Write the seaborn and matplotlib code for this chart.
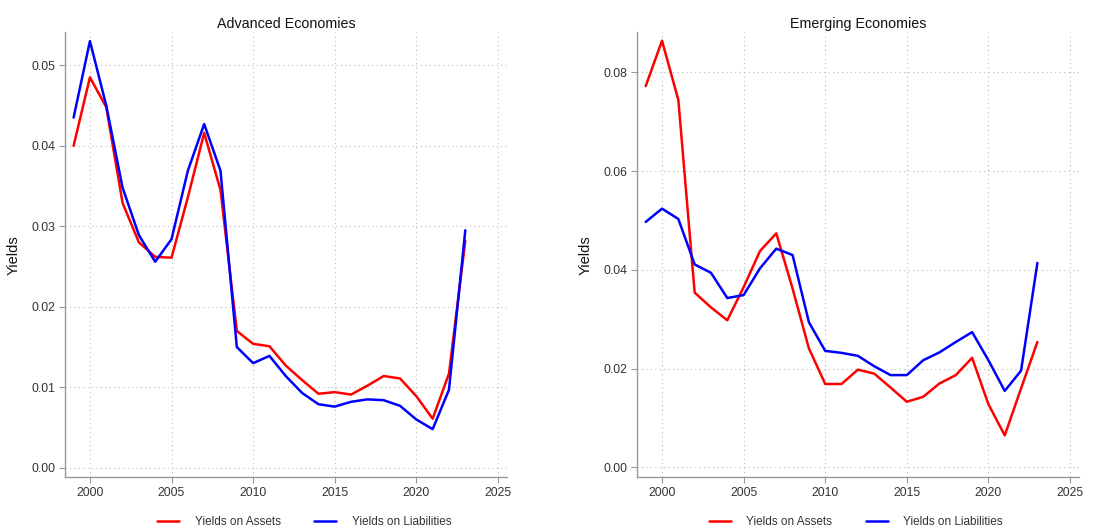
import matplotlib
matplotlib.use("Agg")
import matplotlib.pyplot as plt
import seaborn as sns
import pandas as pd
from matplotlib.lines import Line2D

years = list(range(1999, 2024))

adv_assets = [0.0400, 0.0485, 0.0448, 0.0329, 0.0280, 0.0262, 0.0261, 0.0336, 0.0416,
              0.0345, 0.0170, 0.0154, 0.0151, 0.0127, 0.0109, 0.0092, 0.0094, 0.0091,
              0.0102, 0.0114, 0.0111, 0.0089, 0.0061, 0.0117, 0.0282]
adv_liabilities = [0.0435, 0.0530, 0.0450, 0.0348, 0.0289, 0.0256, 0.0284, 0.0369, 0.0427,
                   0.0369, 0.0150, 0.0130, 0.0139, 0.0114, 0.0093, 0.0079, 0.0076, 0.0082,
                   0.0085, 0.0084, 0.0077, 0.0060, 0.0048, 0.0097, 0.0295]

eme_assets = [0.0772, 0.0864, 0.0744, 0.0354, 0.0324, 0.0298, 0.0365, 0.0438, 0.0474,
              0.0362, 0.0241, 0.0169, 0.0169, 0.0198, 0.0190, 0.0162, 0.0133, 0.0143,
              0.0170, 0.0187, 0.0222, 0.0128, 0.0065, 0.0160, 0.0254]
eme_liabilities = [0.0497, 0.0524, 0.0503, 0.0411, 0.0394, 0.0343, 0.0349, 0.0403, 0.0443,
                   0.0430, 0.0294, 0.0236, 0.0232, 0.0226, 0.0205, 0.0187, 0.0187, 0.0217,
                   0.0233, 0.0254, 0.0274, 0.0217, 0.0155, 0.0196, 0.0414]

series_names = ["Yields on Assets", "Yields on Liabilities"]
panel_titles = ["Advanced Economies", "Emerging Economies"]
x_ticks = [2000, 2005, 2010, 2015, 2020, 2025]
adv_yticks = [0.00, 0.01, 0.02, 0.03, 0.04, 0.05]
eme_yticks = [0.00, 0.02, 0.04, 0.06, 0.08]

sns.set_theme(style="white")
plt.rcParams["font.family"] = ["Liberation Sans", "DejaVu Sans"]

colors = {"Yields on Assets": "#ff0000", "Yields on Liabilities": "#0000ff"}
axis_gray = "#999999"
text_gray = "#333333"


def long_frame(assets, liabilities):
    return pd.DataFrame({
        "Year": years * 2,
        "Yield": assets + liabilities,
        "Series": [series_names[0]] * len(years) + [series_names[1]] * len(years),
    })


fig = plt.figure(figsize=(11.2, 5.29), dpi=100)
ax_adv = fig.add_axes([0.058, 0.098, 0.3946, 0.841])
ax_eme = fig.add_axes([0.5688, 0.098, 0.3946, 0.841])

panels = [
    (ax_adv, long_frame(adv_assets, adv_liabilities), adv_yticks, (-0.00116, 0.0541), 0.541),
    (ax_eme, long_frame(eme_assets, eme_liabilities), eme_yticks, (-0.00196, 0.0881), 0.495),
]

for (ax, df, yt, ylim, legend_x), title in zip(panels, panel_titles):
    sns.lineplot(data=df, x="Year", y="Yield", hue="Series", palette=colors,
                 linewidth=1.8, ax=ax, legend=False, errorbar=None)
    ax.set_xlim(1998.47, 2025.55)
    ax.set_ylim(*ylim)
    ax.set_xticks(x_ticks)
    ax.set_yticks(yt)
    ax.set_yticklabels([f"{v:.2f}" for v in yt])
    ax.set_title(title, fontsize=10.3, color="#111111", pad=3)
    ax.set_xlabel("")
    ax.set_ylabel("Yields", fontsize=10.5, color="#111111", labelpad=8)
    ax.grid(True, which="major", axis="both", linestyle=(0, (1, 3)),
            color="#bbbbbb", linewidth=0.8)
    for side in ("top", "right"):
        ax.spines[side].set_visible(False)
    for side in ("left", "bottom"):
        ax.spines[side].set_color(axis_gray)
        ax.spines[side].set_linewidth(1.0)
    ax.tick_params(axis="both", which="major", direction="out", length=4,
                   width=0.8, color=axis_gray, labelsize=8.8, labelcolor=text_gray,
                   bottom=True, left=True, pad=3)

    handles = [Line2D([0], [0], color=colors[n], linewidth=1.8) for n in series_names]
    ax.legend(handles, series_names, loc="upper center", bbox_to_anchor=(legend_x, -0.068),
              ncol=2, frameon=False, fontsize=8.5, handlelength=1.9, borderpad=0.2,
              columnspacing=2.8, handletextpad=1.3, labelcolor=text_gray)

fig.savefig("out.png", dpi=100)
